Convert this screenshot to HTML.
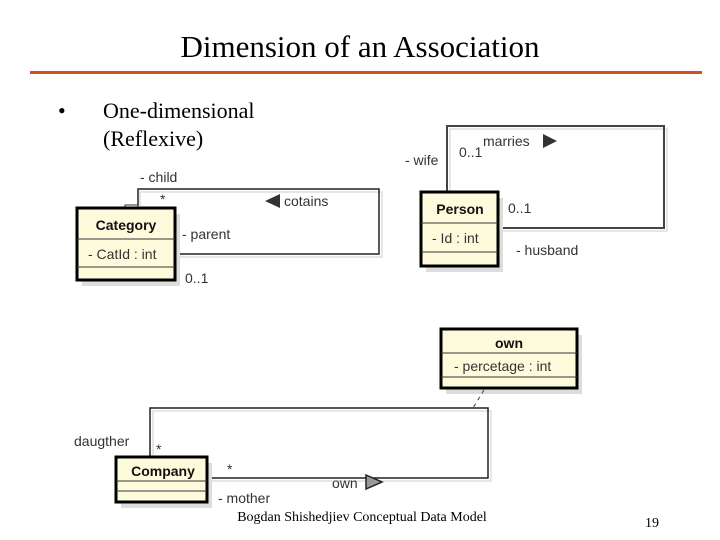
<!DOCTYPE html>
<html><head><meta charset="utf-8"><style>
html,body{margin:0;padding:0;background:#fff}
svg{display:block}
.s{font-family:"Liberation Serif",serif;fill:#000}
.a{font-family:"Liberation Sans",sans-serif;font-size:14px;fill:#333}
.b{font-family:"Liberation Sans",sans-serif;font-size:14px;font-weight:bold;fill:#111}
</style></head><body>
<svg width="720" height="540" viewBox="0 0 720 540">
<text class="s" x="360" y="57" font-size="31" text-anchor="middle">Dimension of an Association</text>
<rect x="30" y="71" width="672" height="3" fill="#d84a28"/>
<text class="s" x="58" y="118" font-size="22">•</text>
<text class="s" x="103" y="118" font-size="22">One-dimensional</text>
<text class="s" x="103" y="146" font-size="22">(Reflexive)</text>

<!-- Category -->
<polyline points="140,206 140,192 382,192 382,257 178,257" fill="none" stroke="#ddd" stroke-width="1.5"/>
<polyline points="138,206 138,189 379,189 379,254 175,254" fill="none" stroke="#222" stroke-width="1.5"/>
<rect x="125" y="205" width="13" height="5" fill="#fff" stroke="#333"/>
<rect x="82" y="214" width="98" height="72" fill="#ddd"/>
<rect x="77" y="208" width="98" height="72" fill="#fdfbdc" stroke="#000" stroke-width="3"/>
<line x1="77" y1="239" x2="175" y2="239" stroke="#333"/>
<line x1="77" y1="267" x2="175" y2="267" stroke="#333"/>
<text class="b" x="126" y="230" text-anchor="middle">Category</text>
<text class="a" x="88" y="259">- CatId : int</text>
<text class="a" x="140" y="182">- child</text>
<text class="a" x="160" y="204">*</text>
<polygon points="265,201 280,194 280,208" fill="#333"/>
<text class="a" x="284" y="206">cotains</text>
<text class="a" x="182" y="239">- parent</text>
<text class="a" x="185" y="283">0..1</text>

<!-- Person -->
<polyline points="450,192 450,129 667,129 667,231 498,231" fill="none" stroke="#ddd" stroke-width="1.5"/>
<polyline points="447,192 447,126 664,126 664,228 498,228" fill="none" stroke="#444" stroke-width="2"/>
<rect x="426" y="198" width="77" height="74" fill="#ddd"/>
<rect x="421" y="192" width="77" height="74" fill="#fdfbdc" stroke="#000" stroke-width="3"/>
<line x1="421" y1="223" x2="498" y2="223" stroke="#333"/>
<line x1="421" y1="252" x2="498" y2="252" stroke="#333"/>
<text class="b" x="460" y="214" text-anchor="middle">Person</text>
<text class="a" x="432" y="243">- Id : int</text>
<text class="a" x="405" y="165">- wife</text>
<text class="a" x="459" y="157">0..1</text>
<text class="a" x="483" y="146">marries</text>
<polygon points="543,134 557,141 543,148" fill="#333"/>
<text class="a" x="508" y="213">0..1</text>
<text class="a" x="516" y="255">- husband</text>

<!-- own -->
<rect x="446" y="335" width="136" height="59" fill="#ddd"/>
<rect x="441" y="329" width="136" height="59" fill="#fdfbdc" stroke="#000" stroke-width="3"/>
<line x1="441" y1="353" x2="577" y2="353" stroke="#333"/>
<line x1="441" y1="377" x2="577" y2="377" stroke="#333"/>
<text class="b" x="509" y="348" text-anchor="middle">own</text>
<text class="a" x="454" y="371">- percetage : int</text>
<line x1="484" y1="390" x2="473" y2="408" stroke="#444" stroke-dasharray="4,4"/>

<!-- Company -->
<polyline points="153,457 153,411 491,411 491,481 207,481" fill="none" stroke="#ddd" stroke-width="1.5"/>
<polyline points="150,457 150,408 488,408 488,478 207,478" fill="none" stroke="#222" stroke-width="1.5"/>
<rect x="121" y="463" width="91" height="45" fill="#ddd"/>
<rect x="116" y="457" width="91" height="45" fill="#fdfbdc" stroke="#000" stroke-width="3"/>
<line x1="116" y1="481" x2="207" y2="481" stroke="#333"/>
<line x1="116" y1="491" x2="207" y2="491" stroke="#333"/>
<text class="b" x="163" y="476" text-anchor="middle">Company</text>
<text class="a" x="74" y="446">daugther</text>
<text class="a" x="156" y="454">*</text>
<text class="a" x="227" y="474">*</text>
<text class="a" x="332" y="488">own</text>
<polygon points="366,475 382,482 366,489" fill="#999" stroke="#222" stroke-width="1.5"/>
<text class="a" x="218" y="503">- mother</text>

<text class="s" x="362" y="521" font-size="14" text-anchor="middle">Bogdan Shishedjiev Conceptual Data Model</text>
<text class="s" x="645" y="527" font-size="14">19</text>
</svg>
</body></html>
